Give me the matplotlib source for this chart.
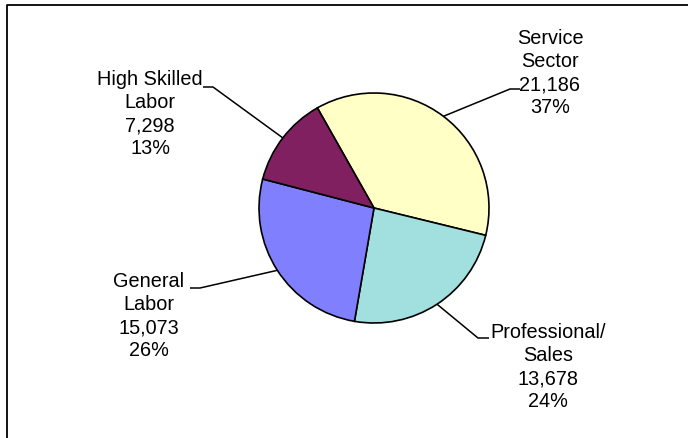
import numpy as np
import matplotlib
matplotlib.use("Agg")
import matplotlib.pyplot as plt

# Occupation groups and counts
categories = ["Service\nSector", "Professional/\nSales", "General\nLabor", "High Skilled\nLabor"]
values = [21186, 13678, 15073, 7298]
colors = ["#FFFFC6", "#A2E0E0", "#8080FF", "#802060"]

W, H = 688, 438
fig = plt.figure(figsize=(W / 100, H / 100), dpi=100)
ax = fig.add_axes([0, 0, 1, 1])

cx, cy, r = 374, H - 208, 115
start = 119.5
wedges, _ = ax.pie(values, colors=colors, startangle=start, counterclock=False,
                   center=(cx, cy), radius=r, frame=True,
                   wedgeprops=dict(edgecolor="black", linewidth=1.2))
ax.set_xlim(0, W)
ax.set_ylim(0, H)
ax.set_aspect("equal")
ax.axis("off")

total = sum(values)
# label centre, elbow point and end of leader (pixel-like coordinates, y down)
label_pos = [(550, 73), (548, 367), (149, 316), (150, 114)]
elbows = [((510, 89), (520, 89)), ((478, 338), (489, 338)),
          ((200, 288), (190, 288)), ((213, 87), (203, 87))]

for w, cat, v, (lx, ly), (e1, e2) in zip(wedges, categories, values, label_pos, elbows):
    mid = np.deg2rad((w.theta1 + w.theta2) / 2)
    px, py = cx + r * np.cos(mid), cy + r * np.sin(mid)
    ax.plot([px, e1[0], e2[0]], [py, H - e1[1], H - e2[1]], color="black",
            linewidth=1.1, solid_capstyle="butt", zorder=3)
    txt = f"{cat}\n{v:,}\n{round(v / total * 100):.0f}%"
    ax.text(lx, H - ly, txt, ha="center", va="center", multialignment="center",
            fontsize=14.3, family="Liberation Sans", linespacing=1.27, color="black")

# chart area border (top and left edges visible)
ax.plot([7, 7, W + 5], [-5, H - 5, H - 5], color="black", linewidth=1.3,
        solid_capstyle="butt", clip_on=False)

fig.savefig("out.png", dpi=100, facecolor="white")
